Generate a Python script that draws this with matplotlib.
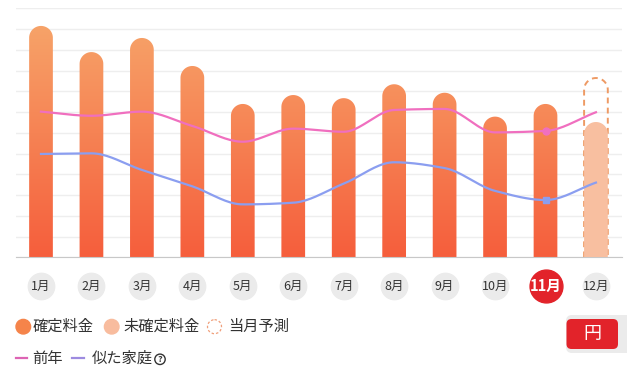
import numpy as np
import matplotlib
matplotlib.use("Agg")
from matplotlib import pyplot as plt
from matplotlib.path import Path
from matplotlib.patches import PathPatch, Circle, FancyBboxPatch
from matplotlib.colors import LinearSegmentedColormap

plt.rcParams['font.family'] = ['Noto Sans CJK JP', 'DejaVu Sans']

# data (yen)
months = ['1月', '2月', '3月', '4月', '5月', '6月', '7月', '8月', '9月', '10月', '11月', '12月']
confirmed = [11150, 9890, 10570, 9220, 7390, 7820, 7670, 8340, 7930, 6780, 7390, None]
unconfirmed = [None] * 11 + [6520]
forecast = [None] * 11 + [8640]
last_year = [7020, 6820, 7020, 6330, 5570, 6200, 6050, 7100, 7150, 6020, 6090, 6990]
similar = [4980, 5010, 4210, 3420, 2550, 2630, 3550, 4580, 4300, 3200, 2760, 3600]
current = 10  # 11月

W, H = 627, 373
fig = plt.figure(figsize=(W / 100, H / 100), dpi=100)
ax_l, ax_r, ax_t, ax_b = 16, 622, 8.3, 257.3
ax = fig.add_axes([ax_l / W, 1 - ax_b / H, (ax_r - ax_l) / W, (ax_b - ax_t) / H])
x0lim = (16 - 41) / 50.45
x1lim = (622 - 41) / 50.45
ax.set_xlim(x0lim, x1lim)
ax.set_ylim(0, 12000)
ax.set_yticks(np.arange(0, 12001, 1000))
ax.grid(axis='y', color='#eeeeee', lw=1)
ax.set_axisbelow(True)
for s in ['top', 'right', 'left']:
    ax.spines[s].set_visible(False)
ax.spines['bottom'].set_color('#c8c8c8')
ax.tick_params(left=False, bottom=False, labelleft=False, labelbottom=False)

bw = 0.47
# radius of the round cap in data units (x and y)
p0 = ax.transData.transform((0, 0))
p1 = ax.transData.transform((1, 1000))
px_x = p1[0] - p0[0]
px_y = (p1[1] - p0[1]) / 1000
rx = bw / 2
ry = rx * px_x / px_y


def bar_path(xc, top, closed=True):
    t = np.linspace(np.pi, 0, 40)
    cy = top - ry
    xs = [xc - rx] + list(xc + rx * np.cos(t)) + [xc + rx]
    ys = [0] + list(cy + ry * np.sin(t)) + [0]
    verts = list(zip(xs, ys))
    if closed:
        verts.append(verts[0])
    return Path(verts)


grad_cmap = LinearSegmentedColormap.from_list('g', ['#f55e3c', '#f7a86c'])
grad = np.linspace(0, 1, 256).reshape(-1, 1)

for i, v in enumerate(confirmed):
    if v is None:
        continue
    patch = PathPatch(bar_path(i, v), facecolor='none', edgecolor='none')
    ax.add_patch(patch)
    im = ax.imshow(grad, extent=(x0lim, x1lim, 0, 12000), origin='lower',
                   aspect='auto', cmap=grad_cmap, zorder=2)
    im.set_clip_path(patch)

for i, v in enumerate(forecast):
    if v is None:
        continue
    ax.add_patch(PathPatch(bar_path(i, v, closed=False), facecolor='none',
                           edgecolor='#ee9a64', lw=1.4, linestyle=(0, (3, 2.2)), zorder=2))
for i, v in enumerate(unconfirmed):
    if v is None:
        continue
    ax.add_patch(PathPatch(bar_path(i, v), facecolor='#f8bfa0', edgecolor='none', zorder=3))

ax.set_xlim(x0lim, x1lim)
ax.set_ylim(0, 12000)


def smooth(y, n=20):
    # monotone cubic (Fritsch-Carlson) through the points
    y = np.asarray(y, float)
    x = np.arange(len(y), dtype=float)
    d = np.diff(y)
    m = np.zeros_like(y)
    m[0], m[-1] = d[0], d[-1]
    for k in range(1, len(y) - 1):
        if d[k - 1] * d[k] <= 0:
            m[k] = 0
        else:
            m[k] = 2 / (1 / d[k - 1] + 1 / d[k])
    xs, ys = [], []
    for k in range(len(y) - 1):
        t = np.linspace(0, 1, n, endpoint=False)
        h00 = 2 * t**3 - 3 * t**2 + 1
        h10 = t**3 - 2 * t**2 + t
        h01 = -2 * t**3 + 3 * t**2
        h11 = t**3 - t**2
        xs.extend(x[k] + t)
        ys.extend(h00 * y[k] + h10 * m[k] + h01 * y[k + 1] + h11 * m[k + 1])
    xs.append(x[-1])
    ys.append(y[-1])
    return np.array(xs), np.array(ys)


pink, blue = '#f06fbf', '#8b9ef0'
sx, sy = smooth(last_year)
ax.plot(sx, sy, color=pink, lw=1.6, zorder=4)
sx, sy = smooth(similar)
ax.plot(sx, sy, color=blue, lw=1.6, zorder=4)
ax.plot(current, last_year[current], 'o', color=pink, ms=5, zorder=5)
ax.plot(current, similar[current], 's', color=blue, ms=4.6, zorder=5)

# month badges
tr = ax.get_xaxis_transform()
yb = (ax_b - 286) / (ax_b - ax_t)
for i, m in enumerate(months):
    if i == current:
        ax.scatter(i, yb, s=560, color='#e2232a', transform=tr, clip_on=False, zorder=5)
        ax.text(i, yb, m, transform=tr, ha='center', va='center', color='white',
                fontsize=10.5, fontweight='bold', zorder=6)
    else:
        ax.scatter(i, yb, s=360, color='#ebebeb', transform=tr, clip_on=False, zorder=5)
        ax.text(i, yb, m, transform=tr, ha='center', va='center', color='#333333',
                fontsize=9, zorder=6)

# legend / button overlay in pixel coords
ov = fig.add_axes([0, 0, 1, 1])
ov.set_xlim(0, W)
ov.set_ylim(H, 0)
ov.axis('off')

r1, r2 = 326.7, 358.3
ov.add_patch(Circle((23.3, r1), 7.3, color='#f5844a'))
ov.text(33, r1, '確定料金', va='center', fontsize=11, color='#333333')
ov.add_patch(Circle((111.7, r1), 7.3, color='#f8bc9e'))
ov.text(123, r1, '未確定料金', va='center', fontsize=11, color='#333333')
ov.add_patch(Circle((214.5, r1), 7.0, facecolor='none', edgecolor='#f0a07c',
                    lw=0.9, linestyle=(0, (2, 1.6))))
ov.text(228, r1, '当月予測', va='center', fontsize=11, color='#333333')

ov.plot([16, 27], [r2, r2], color='#dd64b4', lw=1.6)
ov.text(32, r2, '前年', va='center', fontsize=11, color='#333333')
ov.plot([72, 84], [r2, r2], color='#9d8be0', lw=1.6)
ov.text(92, r2, '似た家庭', va='center', fontsize=11, color='#333333')
ov.add_patch(Circle((160, r2 + 1), 5.2, facecolor='none', edgecolor='#333333', lw=1))
ov.text(160, r2 + 1.3, '?', ha='center', va='center', fontsize=6.5, color='#333333',
        fontweight='bold')

ov.add_patch(FancyBboxPatch((566, 315), 80, 38, boxstyle='round,pad=0,rounding_size=6',
                            facecolor='#ebebeb', edgecolor='none'))
ov.add_patch(FancyBboxPatch((566.5, 319), 51.5, 30, boxstyle='round,pad=0,rounding_size=5',
                            facecolor='#e2232a', edgecolor='none'))
ov.text(592, 334, '円', ha='center', va='center', fontsize=13, color='white')

fig.savefig('out.png', dpi=100)
